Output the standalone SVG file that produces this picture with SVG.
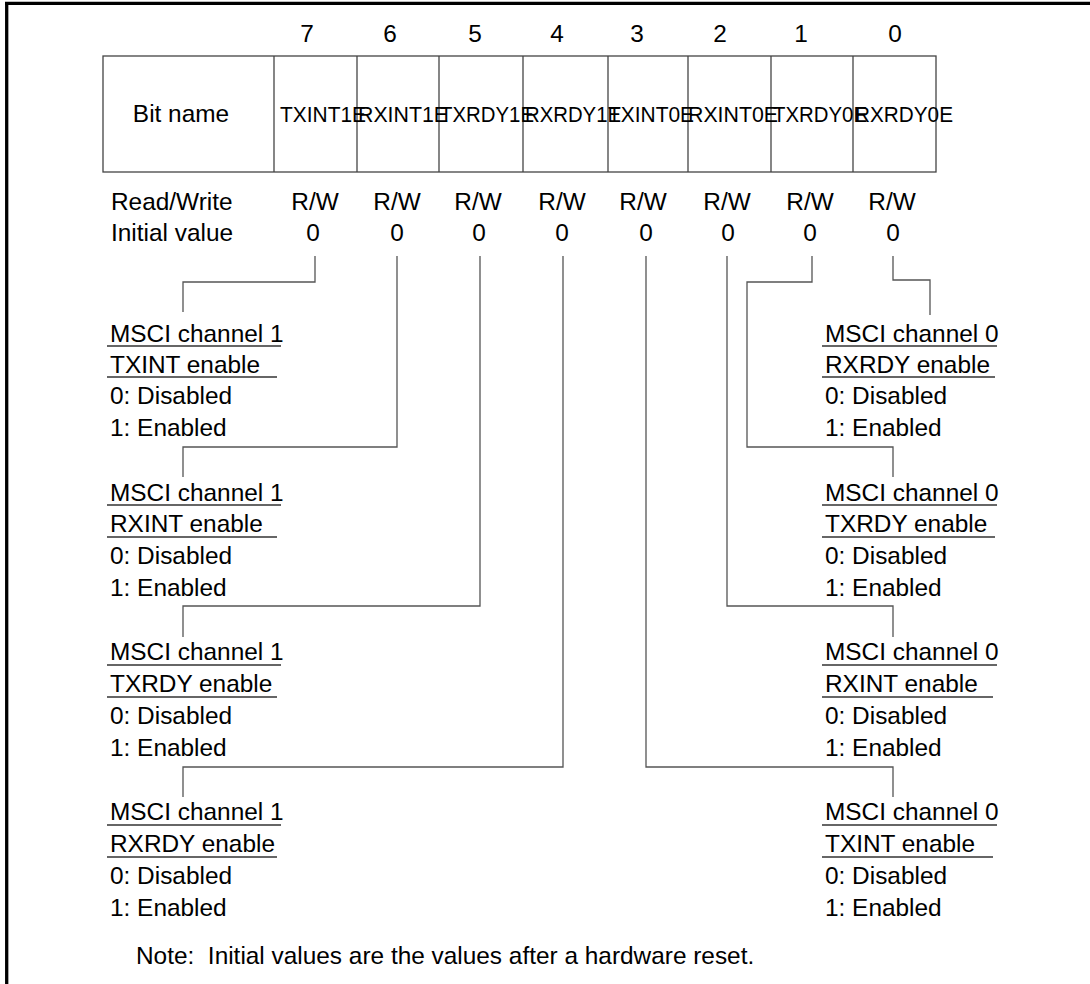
<svg xmlns="http://www.w3.org/2000/svg" width="1090" height="984" viewBox="0 0 1090 984">
<style>
text{font-family:"Liberation Sans",Arial,sans-serif;font-size:24.4px;fill:#000}
.c{text-anchor:middle}
.bn{font-size:22.5px}
.ul{stroke:#333;stroke-width:1.3}
.conn{fill:none;stroke:#555;stroke-width:1.3}
.cell{fill:none;stroke:#444;stroke-width:1.3}
</style>
<rect width="1090" height="984" fill="#fff"/>
<g id="frame">
<line x1="5" y1="3.3" x2="1090" y2="3.3" stroke="#000" stroke-width="3.3"/>
<line x1="6.7" y1="2" x2="6.7" y2="984" stroke="#000" stroke-width="3.3"/>
</g>
<g id="bit-numbers">
<text class="c" x="307" y="42">7</text>
<text class="c" x="390" y="42">6</text>
<text class="c" x="475" y="42">5</text>
<text class="c" x="557" y="42">4</text>
<text class="c" x="637" y="42">3</text>
<text class="c" x="720" y="42">2</text>
<text class="c" x="801" y="42">1</text>
<text class="c" x="895" y="42">0</text>
</g>
<g id="register">
<rect class="cell" x="103" y="56" width="833" height="116" stroke="#222"/>
<line class="cell" x1="274" y1="56" x2="274" y2="172" stroke="#111"/>
<line class="cell" x1="357" y1="56" x2="357" y2="172"/>
<line class="cell" x1="439" y1="56" x2="439" y2="172" stroke="#222"/>
<line class="cell" x1="523" y1="56" x2="523" y2="172"/>
<line class="cell" x1="608" y1="56" x2="608" y2="172"/>
<line class="cell" x1="688" y1="56" x2="688" y2="172"/>
<line class="cell" x1="771" y1="56" x2="771" y2="172"/>
<line class="cell" x1="853" y1="56" x2="853" y2="172"/>
<text class="c" x="181" y="122">Bit name</text>
<text class="bn" x="280" y="122" textLength="86" lengthAdjust="spacingAndGlyphs">TXINT1E</text>
<text class="bn" x="358" y="122" textLength="90" lengthAdjust="spacingAndGlyphs">RXINT1E</text>
<text class="bn" x="440" y="122" textLength="94" lengthAdjust="spacingAndGlyphs">TXRDY1E</text>
<text class="bn" x="525" y="122" textLength="96" lengthAdjust="spacingAndGlyphs">RXRDY1E</text>
<text class="bn" x="608" y="122" textLength="86" lengthAdjust="spacingAndGlyphs">TXINT0E</text>
<text class="bn" x="688" y="122" textLength="90" lengthAdjust="spacingAndGlyphs">RXINT0E</text>
<text class="bn" x="773" y="122" textLength="94" lengthAdjust="spacingAndGlyphs">TXRDY0E</text>
<text class="bn" x="855" y="122" textLength="98" lengthAdjust="spacingAndGlyphs">RXRDY0E</text>
</g>
<g id="access">
<text x="111" y="210">Read/Write</text>
<text x="111" y="241">Initial value</text>
<text class="c" x="315" y="210">R/W</text>
<text class="c" x="397" y="210">R/W</text>
<text class="c" x="478" y="210">R/W</text>
<text class="c" x="562" y="210">R/W</text>
<text class="c" x="643" y="210">R/W</text>
<text class="c" x="727" y="210">R/W</text>
<text class="c" x="810" y="210">R/W</text>
<text class="c" x="892" y="210">R/W</text>
<text class="c" x="313" y="241">0</text>
<text class="c" x="397" y="241">0</text>
<text class="c" x="479" y="241">0</text>
<text class="c" x="562" y="241">0</text>
<text class="c" x="646" y="241">0</text>
<text class="c" x="728" y="241">0</text>
<text class="c" x="810" y="241">0</text>
<text class="c" x="893" y="241">0</text>
</g>
<g id="connectors">
<polyline class="conn" points="315,256 315,282 183,282 183,312"/>
<polyline class="conn" points="397,256 397,447 183,447 183,477"/>
<polyline class="conn" points="480,256 480,606 183,606 183,637"/>
<polyline class="conn" points="563,256 563,767 183,767 183,797"/>
<polyline class="conn" points="646,256 646,767 893,767 893,797"/>
<polyline class="conn" points="727,256 727,606 893,606 893,637"/>
<polyline class="conn" points="812,256 812,282 747,282 747,447 893,447 893,477"/>
<polyline class="conn" points="893,256 893,280 930,280 930,315"/>
</g>
<g id="bit7-desc">
<text x="110" y="342">MSCI channel 1</text>
<line class="ul" x1="107" y1="346" x2="281" y2="346"/>
<text x="110" y="373">TXINT enable</text>
<line class="ul" x1="107" y1="377" x2="277" y2="377"/>
<text x="110" y="404">0: Disabled</text>
<text x="110" y="436">1: Enabled</text>
</g>
<g id="bit6-desc">
<text x="110" y="501">MSCI channel 1</text>
<line class="ul" x1="107" y1="505" x2="281" y2="505"/>
<text x="110" y="532">RXINT enable</text>
<line class="ul" x1="107" y1="537" x2="277" y2="537"/>
<text x="110" y="564">0: Disabled</text>
<text x="110" y="596">1: Enabled</text>
</g>
<g id="bit5-desc">
<text x="110" y="660">MSCI channel 1</text>
<line class="ul" x1="107" y1="665" x2="281" y2="665"/>
<text x="110" y="692">TXRDY enable</text>
<line class="ul" x1="107" y1="697" x2="277" y2="697"/>
<text x="110" y="724">0: Disabled</text>
<text x="110" y="756">1: Enabled</text>
</g>
<g id="bit4-desc">
<text x="110" y="820">MSCI channel 1</text>
<line class="ul" x1="107" y1="825" x2="281" y2="825"/>
<text x="110" y="852">RXRDY enable</text>
<line class="ul" x1="107" y1="857" x2="277" y2="857"/>
<text x="110" y="884">0: Disabled</text>
<text x="110" y="916">1: Enabled</text>
</g>
<g id="bit0-desc">
<text x="825" y="342">MSCI channel 0</text>
<line class="ul" x1="822" y1="346" x2="997" y2="346"/>
<text x="825" y="373">RXRDY enable</text>
<line class="ul" x1="822" y1="377" x2="995" y2="377"/>
<text x="825" y="404">0: Disabled</text>
<text x="825" y="436">1: Enabled</text>
</g>
<g id="bit1-desc">
<text x="825" y="501">MSCI channel 0</text>
<line class="ul" x1="822" y1="505" x2="997" y2="505"/>
<text x="825" y="532">TXRDY enable</text>
<line class="ul" x1="822" y1="537" x2="995" y2="537"/>
<text x="825" y="564">0: Disabled</text>
<text x="825" y="596">1: Enabled</text>
</g>
<g id="bit2-desc">
<text x="825" y="660">MSCI channel 0</text>
<line class="ul" x1="822" y1="665" x2="997" y2="665"/>
<text x="825" y="692">RXINT enable</text>
<line class="ul" x1="822" y1="697" x2="993" y2="697"/>
<text x="825" y="724">0: Disabled</text>
<text x="825" y="756">1: Enabled</text>
</g>
<g id="bit3-desc">
<text x="825" y="820">MSCI channel 0</text>
<line class="ul" x1="822" y1="825" x2="997" y2="825"/>
<text x="825" y="852">TXINT enable</text>
<line class="ul" x1="822" y1="857" x2="993" y2="857"/>
<text x="825" y="884">0: Disabled</text>
<text x="825" y="916">1: Enabled</text>
</g>
<g id="note">
<text x="136" y="964" xml:space="preserve">Note:  Initial values are the values after a hardware reset.</text>
</g>
</svg>
